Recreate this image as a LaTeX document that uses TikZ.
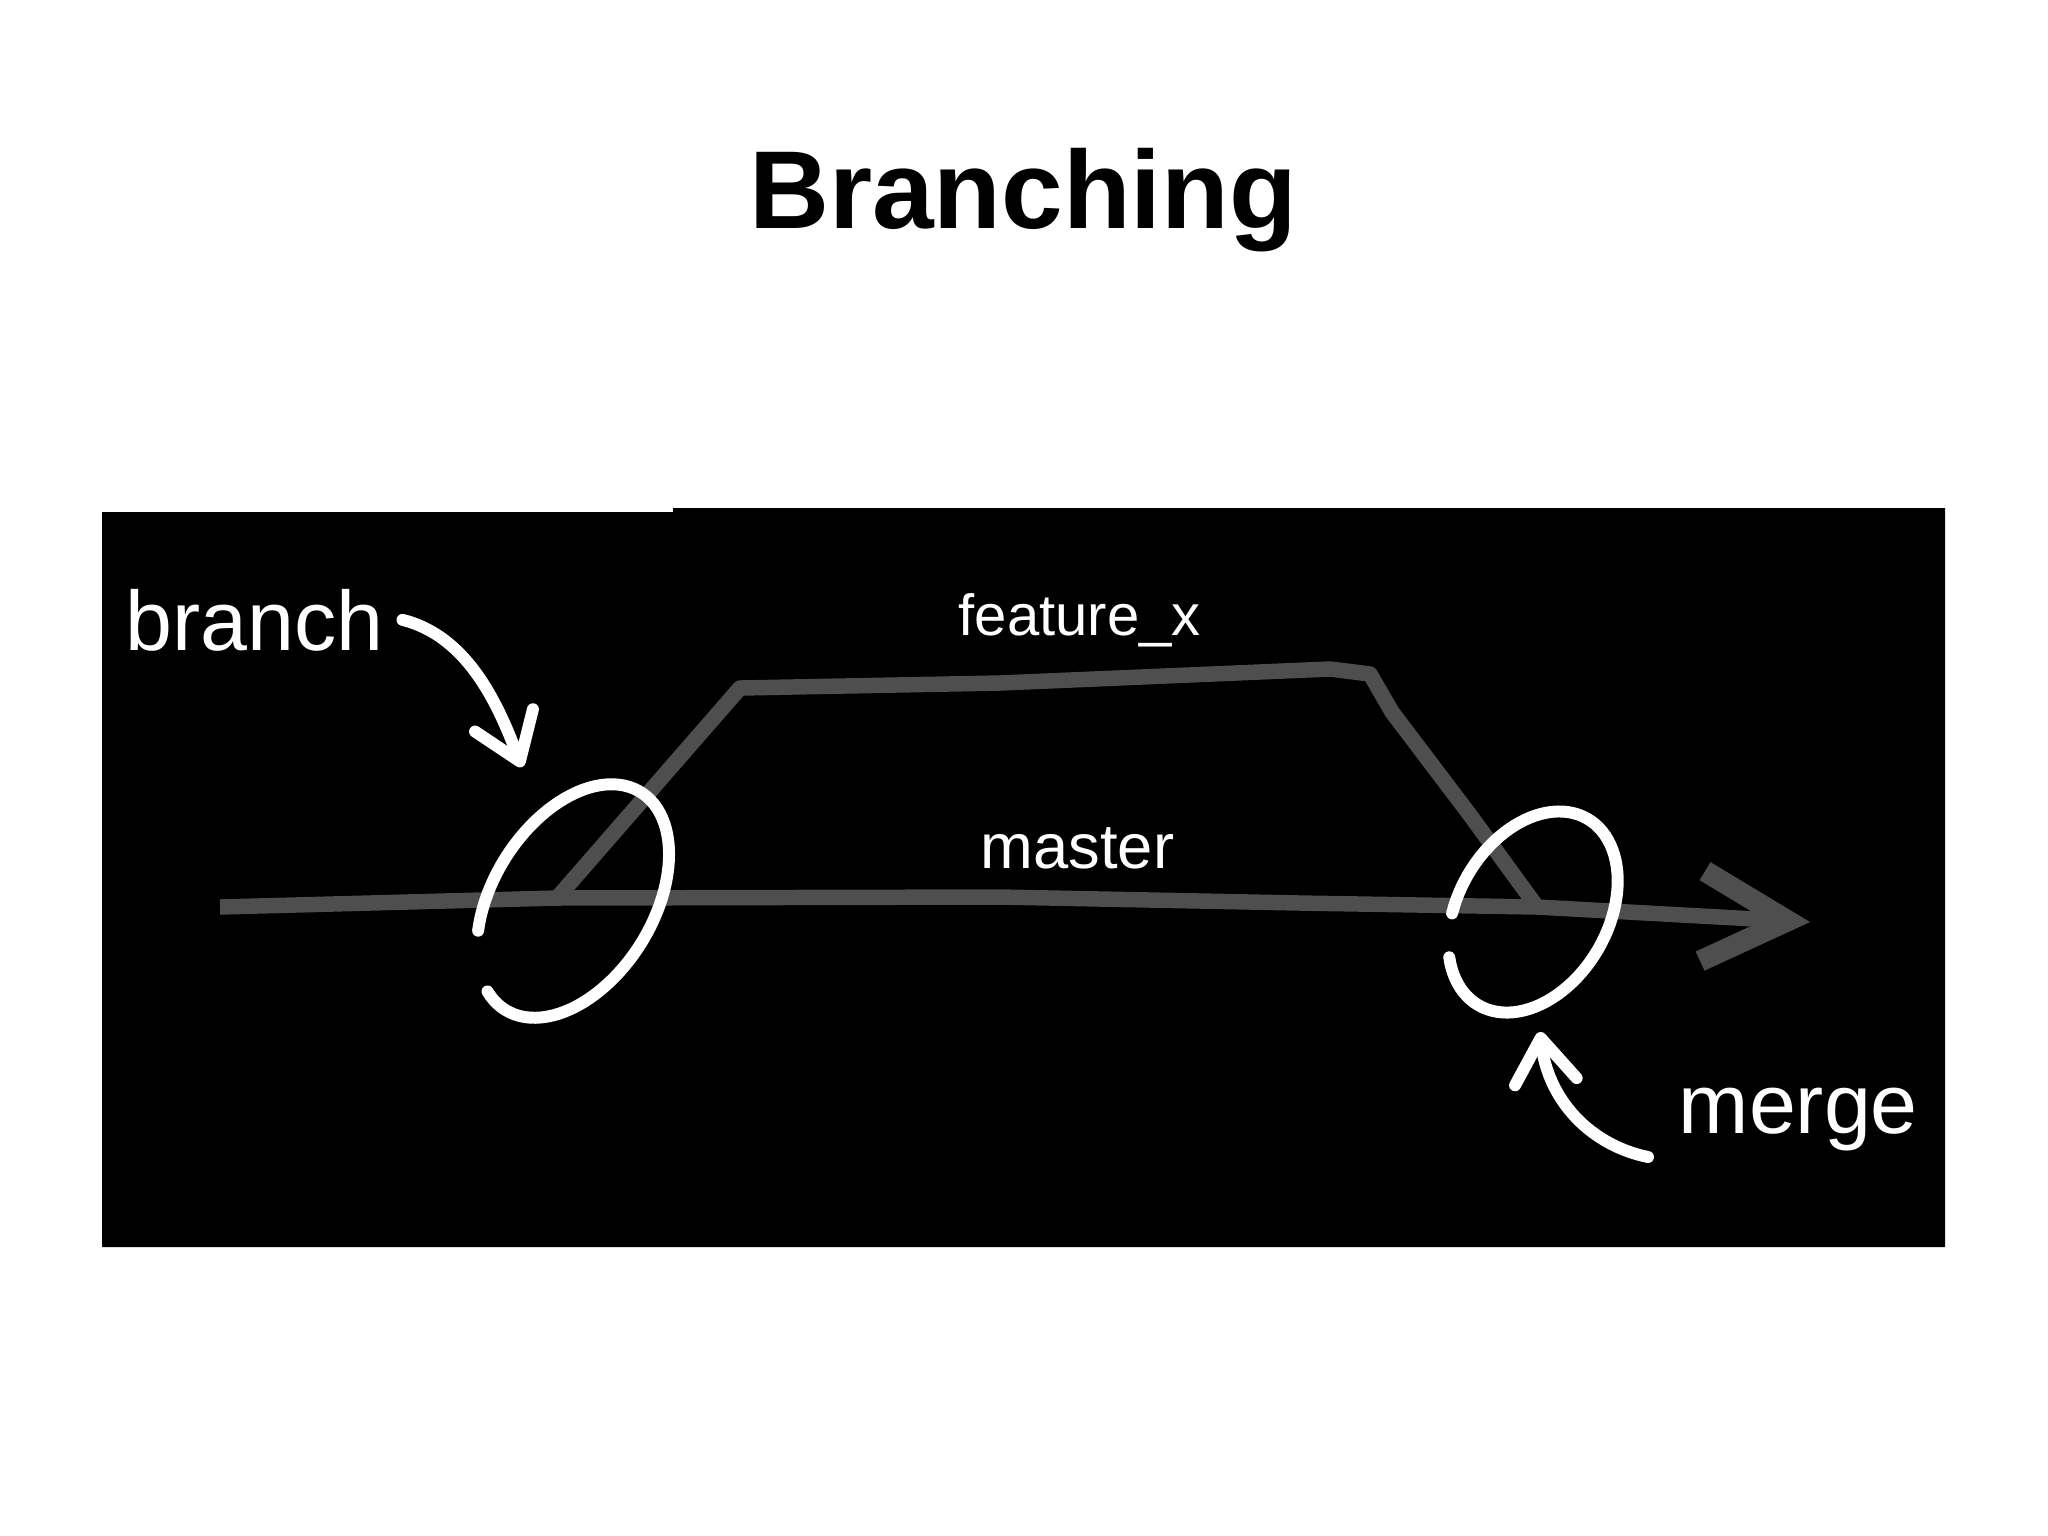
\documentclass[tikz,border=0pt]{standalone}
\usepackage{fontspec}
\setmainfont{Liberation Sans}
\usepackage{tikz}
\usetikzlibrary{arrows.meta, positioning, calc}
\definecolor{branchgray}{RGB}{78,78,78}

\begin{document}
\begin{tikzpicture}[x=0.01cm, y=-0.01cm,
  chalk/.style={white, line width=3.4pt, line cap=round, line join=round},
  chalkarrow/.style={chalk, line width=3.4pt, -{Straight Barb[round,length=4.4mm,width=6.2mm]}},
  track/.style={branchgray, line width=4.4pt, line join=round},
  hand/.style={text=white, inner sep=0pt, anchor=base west}]

  % page and blackboard
  \useasboundingbox (0,0) rectangle (2048,1535);
  \fill[white] (0,0) rectangle (2048,1535);
  \fill[black] (102,512) -- (673,512) -- (673,508) -- (1945,508) -- (1945,1247) -- (102,1247) -- cycle;

  % Title
  \node[font=\bfseries\fontsize{31.5}{38}\selectfont, anchor=base] (title) at (1023,228) {Branching};

  % points on master
  \coordinate (start) at (220,907);
  \coordinate (fork) at (557,898);
  \coordinate (join) at (1537,907);
  \coordinate (tip) at (1810,922);

  % master line
  \draw[track, -{Straight Barb[length=8.5mm,width=9mm,line width=6pt]}]
    (start) -- (fork) -- (1000,897) -- (1300,903) -- (join) -- (tip);

  % feature_x line
  \draw[track] (fork) -- (740,688) -- (1000,683) -- (1330,669) -- (1370,674)
    -- (1392,712) -- (1470,815) -- (join);

  % loops round fork and join (tilted ellipses, open on the left)
  \draw[chalk] plot[domain=234:558, samples=90, variable=\t]
    ({573+128*0.53*cos(\t)+80*0.85*sin(\t)}, {901-128*0.85*cos(\t)+80*0.53*sin(\t)});
  \draw[chalk] plot[domain=247:581, samples=90, variable=\t]
    ({1533+108*0.507*cos(\t)+75*0.862*sin(\t)}, {912-108*0.862*cos(\t)+75*0.507*sin(\t)});

  % labels
  \node[hand, font=\fontsize{24}{24}\selectfont] (branchlbl) at (125,650) {branch};
  \node[hand, font=\fontsize{16.5}{17}\selectfont] (featurelbl) at (958,635) {feature\_x};
  \node[hand, font=\fontsize{18}{18}\selectfont] (masterlbl) at (980,868) {master};
  \node[hand, font=\fontsize{24}{24}\selectfont] (mergelbl) at (1678,1133) {merge};

  % pointers
  \coordinate (brtip) at (522,767);
  \coordinate (mgtail) at (1648,1157);
  \coordinate (mgtip) at (1540,1032);
  \draw[chalkarrow] ([xshift=0.18cm]branchlbl.east) .. controls +(68,17) and +(-22,-57) .. (brtip);
  \draw[chalkarrow] (mgtail) .. controls +(-58,-12) and +(8,68) .. (mgtip);

\end{tikzpicture}
\end{document}
